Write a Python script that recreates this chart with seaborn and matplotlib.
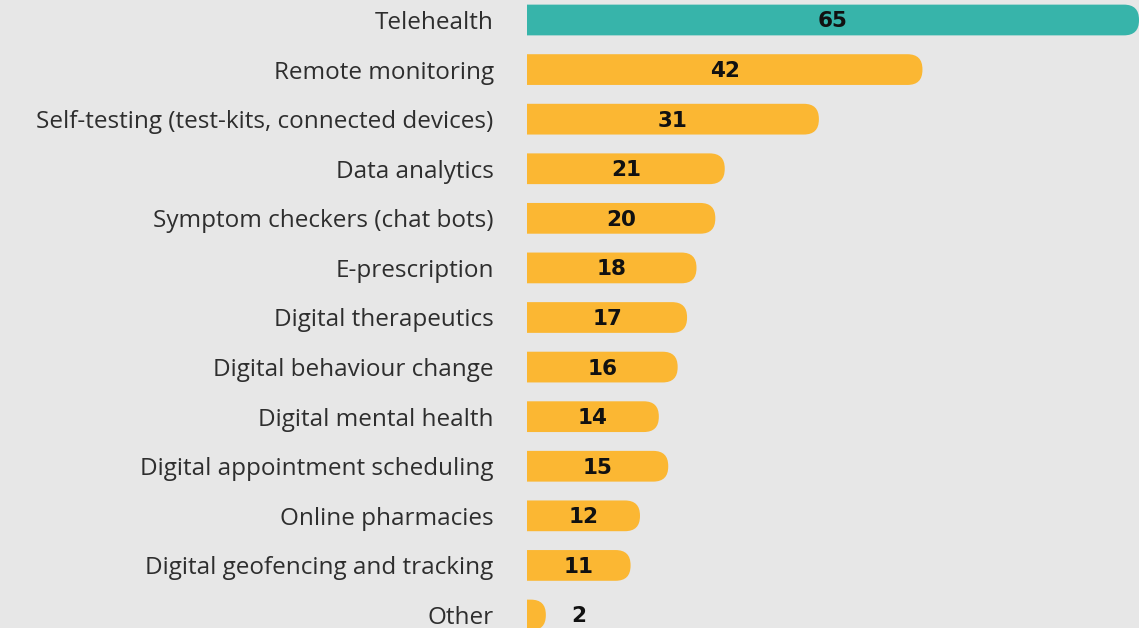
import matplotlib
matplotlib.use("Agg")
import matplotlib.pyplot as plt
from matplotlib.patches import FancyBboxPatch
import seaborn as sns
import pandas as pd

categories = [
    "Telehealth", "Remote monitoring", "Self-testing (test-kits, connected devices)",
    "Data analytics", "Symptom checkers (chat bots)", "E-prescription",
    "Digital therapeutics", "Digital behaviour change", "Digital mental health",
    "Digital appointment scheduling", "Online pharmacies",
    "Digital geofencing and tracking", "Other",
]
values = [65, 42, 31, 21, 20, 18, 17, 16, 14, 15, 12, 11, 2]
highlight = ["Telehealth"]

TEAL = "#37b4aa"
ORANGE = "#fbb733"
BG = "#e7e7e7"

df = pd.DataFrame({"category": categories, "value": values})
palette = {c: (TEAL if c in highlight else ORANGE) for c in categories}

sns.set_theme(style="white")
plt.rcParams["font.family"] = ["Open Sans", "DejaVu Sans"]

W, H, DPI = 1139, 628, 100
fig = plt.figure(figsize=(W / DPI, H / DPI), dpi=DPI, facecolor=BG)
ax_left_px = 527
ax = fig.add_axes([ax_left_px / W, 0, 1 - ax_left_px / W, 1])
ax.set_facecolor(BG)

sns.barplot(data=df, x="value", y="category", hue="category", palette=palette,
            legend=False, width=0.62, saturation=1, ax=ax, orient="h")

xmax = 65.0
step_px = (615 - 20) / 12
ax.set_xlim(0, xmax)
ax.set_ylim(12 + (H - 615) / step_px, -20 / step_px)

# unit conversion
ax_w_px = W - ax_left_px
x_per_px = xmax / ax_w_px
y_per_px = 1 / step_px
r_px = 15
r_x = r_px * x_per_px
aspect = y_per_px / x_per_px

for p in list(ax.patches):
    x0, y0 = p.get_x(), p.get_y()
    w, h = p.get_width(), p.get_height()
    color = p.get_facecolor()
    p.set_visible(False)
    fb = FancyBboxPatch((x0 - r_x * 1.5, y0), w + r_x * 1.5, h,
                        boxstyle=f"round,pad=0,rounding_size={r_x}",
                        mutation_aspect=aspect, facecolor=color,
                        edgecolor="none", linewidth=0, zorder=2)
    ax.add_patch(fb)

for i, v in enumerate(values):
    ax.text(max(v, 11) / 2, i + 0.03, str(v), ha="center", va="center",
            fontsize=15.5, fontweight="bold", color="#111111",
            family=["DejaVu Sans"], zorder=3)

ax.set_xlabel("")
ax.set_ylabel("")
ax.set_xticks([])
ax.tick_params(axis="y", length=0, pad=24, labelsize=17.5, labelcolor="#2e2e2e")
for s in ax.spines.values():
    s.set_visible(False)

fig.savefig("out.png", dpi=DPI, facecolor=BG)
